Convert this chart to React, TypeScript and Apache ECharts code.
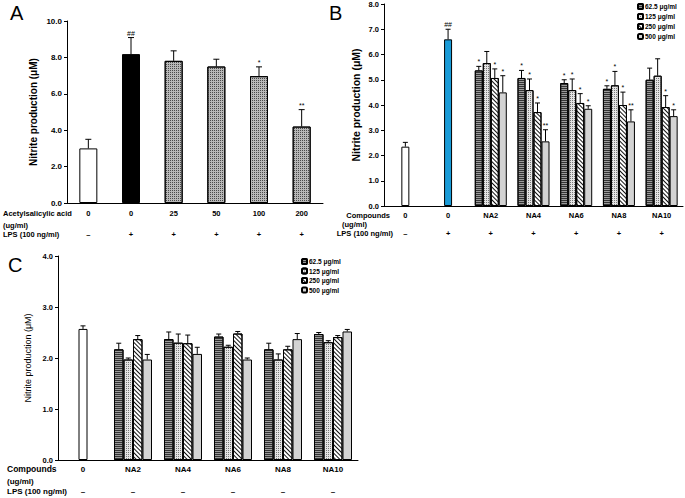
import React, { useEffect, useRef } from "react";
import * as echarts from "echarts";

// ---------- Panel A ----------
const A_CATS = ["0", "0", "25", "50", "100", "200"];
const A_LPS = ["–", "+", "+", "+", "+", "+"];
const A_VALUES = [3.0, 8.18, 7.81, 7.5, 6.97, 4.2];
const A_ERR = [0.5, 0.91, 0.55, 0.4, 0.51, 0.93];
const A_SIG = ["", "##", "", "", "*", "**"];

// ---------- Panel B ----------
const B_CATS = ["0", "0", "NA2", "NA4", "NA6", "NA8", "NA10"];
const B_LPS = ["–", "+", "+", "+", "+", "+", "+"];
const B_CTRL = [2.35, 6.6];
const B_CTRL_ERR = [0.17, 0.4];
const B_CTRL_SIG = ["", "##"];
const B_625 = [5.37, 5.07, 4.87, 4.64, 5.0];
const B_125 = [5.66, 4.59, 4.59, 4.78, 5.16];
const B_250 = [5.07, 3.72, 4.08, 4.0, 3.92];
const B_500 = [4.5, 2.56, 3.85, 3.35, 3.56];
const B_625_ERR = [0.16, 0.3, 0.13, 0.12, 0.46];
const B_125_ERR = [0.46, 0.44, 0.44, 0.55, 0.67];
const B_250_ERR = [0.36, 0.36, 0.37, 0.51, 0.45];
const B_500_ERR = [0.66, 0.46, 0.12, 0.46, 0.25];
const B_625_SIG = ["*", "*", "*", "*", ""];
const B_125_SIG = ["", "*", "*", "*", ""];
const B_250_SIG = ["*", "*", "*", "*", "*"];
const B_500_SIG = ["*", "**", "*", "**", "*"];

// ---------- Panel C ----------
const C_CATS = ["0", "NA2", "NA4", "NA6", "NA8", "NA10"];
const C_LPS = ["–", "–", "–", "–", "–", "–"];
const C_CTRL = [2.57];
const C_CTRL_ERR = [0.06];
const C_625 = [2.17, 2.37, 2.42, 2.17, 2.47];
const C_125 = [1.97, 2.3, 2.22, 1.97, 2.31];
const C_250 = [2.37, 2.29, 2.48, 2.17, 2.41];
const C_500 = [1.97, 2.08, 1.97, 2.37, 2.52];
const C_625_ERR = [0.12, 0.14, 0.05, 0.12, 0.03];
const C_125_ERR = [0.03, 0.17, 0.03, 0.11, 0.03];
const C_250_ERR = [0.07, 0.16, 0.04, 0.06, 0.03];
const C_500_ERR = [0.1, 0.13, 0.03, 0.11, 0.04];

const CONC = ["62.5 μg/ml", "125 μg/ml", "250 μg/ml", "500 μg/ml"];

const FONT = '"Liberation Sans", Arial, Helvetica, sans-serif';

const STYLE_625 = {
  color: "#9a9a9a",
  borderColor: "#000",
  borderWidth: 1,
  decal: { symbol: "rect", symbolSize: 1, dashArrayX: [1, 0], dashArrayY: [1, 1], color: "#333" },
};
const STYLE_125 = {
  color: "#e4e4e4",
  borderColor: "#000",
  borderWidth: 1,
  decal: { symbol: "rect", symbolSize: 1, dashArrayX: [1, 1], dashArrayY: [1, 1], color: "#777" },
};
const STYLE_250 = {
  color: "#ffffff",
  borderColor: "#000",
  borderWidth: 1,
  decal: {
    symbol: "rect",
    symbolSize: 1,
    dashArrayX: [1, 0],
    dashArrayY: [1, 2],
    rotation: Math.PI / 4,
    color: "#111",
  },
};
const STYLE_500 = { color: "#d3d3d3", borderColor: "#000", borderWidth: 1 };
const STYLES = [STYLE_625, STYLE_125, STYLE_250, STYLE_500];

const A_STYLES = [
  { color: "#ffffff", borderColor: "#000", borderWidth: 1 },
  { color: "#000000", borderColor: "#000", borderWidth: 1 },
];
const A_HATCH = {
  color: "#b8b8b8",
  borderColor: "#000",
  borderWidth: 1,
  decal: { symbol: "rect", symbolSize: 1, dashArrayX: [1, 1], dashArrayY: [1, 1], color: "#4a4a4a" },
};

function errSeries(
  xi: number,
  yi: number,
  start: number,
  vals: number[],
  errs: number[],
  sigs: string[],
  offset: number,
  cap: number
) {
  const data = vals.map((v, k) => [start + k, v, errs[k]]);
  return {
    type: "custom",
    xAxisIndex: xi,
    yAxisIndex: yi,
    z: 5,
    silent: true,
    data,
    renderItem: (params: any, api: any) => {
      const i = api.value(0);
      const v = api.value(1);
      const e = api.value(2);
      const p0 = api.coord([i, v]);
      const p1 = api.coord([i, v + e]);
      const x = p0[0] + offset;
      const sig = sigs[params.dataIndex] || "";
      return {
        type: "group",
        children: [
          {
            type: "line",
            shape: { x1: x, y1: p0[1], x2: x, y2: p1[1] },
            style: { stroke: "#000", lineWidth: 1 },
          },
          {
            type: "line",
            shape: { x1: x - cap, y1: p1[1], x2: x + cap, y2: p1[1] },
            style: { stroke: "#000", lineWidth: 1 },
          },
          {
            type: "text",
            x: x,
            y: p1[1] - 1,
            style: {
              text: sig,
              fill: "#000",
              font: `7px ${FONT}`,
              align: "center",
              verticalAlign: "bottom",
              textAlign: "center",
              textVerticalAlign: "bottom",
            },
          },
        ],
      };
    },
  };
}

function catAxis(gridIndex: number, cats: string[], signs: string[], fs: number, lh: number, margin: number, show = true) {
  return {
    type: "category",
    gridIndex,
    data: cats,
    show,
    axisLine: { show: true, lineStyle: { color: "#000", width: 1 } },
    axisTick: { show: false },
    axisLabel: {
      show: true,
      interval: 0,
      margin,
      color: "#000",
      fontFamily: FONT,
      fontWeight: "bold",
      fontSize: fs,
      lineHeight: lh,
      formatter: (val: string, idx: number) => `${val}\n\n${signs[idx]}`,
    },
  };
}

function valAxis(gridIndex: number, max: number, interval: number, name: string, nameGap: number, fs: number, nfs: number, nameWeight: string) {
  return {
    type: "value",
    gridIndex,
    min: 0,
    max,
    interval,
    name,
    nameLocation: "middle",
    nameGap,
    nameTextStyle: { color: "#000", fontFamily: FONT, fontSize: nfs, fontWeight: nameWeight },
    axisLine: { show: true, lineStyle: { color: "#000", width: 1 } },
    axisTick: { show: true, length: 3, lineStyle: { color: "#000" } },
    splitLine: { show: false },
    axisLabel: {
      color: "#000",
      fontFamily: FONT,
      fontWeight: "bold",
      fontSize: fs,
      margin: 5,
      formatter: (v: number) => v.toFixed(1),
    },
  };
}

function textEl(text: string, x: number, y: number, size: number, weight = "bold", align = "left") {
  return {
    type: "text",
    x,
    y,
    silent: true,
    style: {
      text,
      fill: "#000",
      font: `${weight} ${size}px ${FONT}`,
      textAlign: align,
      textVerticalAlign: "middle",
      align,
      verticalAlign: "middle",
    },
  };
}

export default function App() {
  const ref = useRef<HTMLDivElement>(null);

  useEffect(() => {
    if (!ref.current) return;
    const chart = echarts.init(ref.current, undefined, { renderer: "svg" });

    const pad = (n: number) => Array(n).fill("-");

    const option: any = {
      animation: false,
      backgroundColor: "#fff",
      textStyle: { fontFamily: FONT },
      grid: [
        { left: 67, top: 21, width: 256, height: 182 },
        { left: 384, top: 4, width: 299, height: 202 },
        { left: 58, top: 256, width: 300, height: 204 },
      ],
      xAxis: [
        catAxis(0, A_CATS, A_LPS, 7.5, 10.5, 5),
        catAxis(1, B_CATS, B_LPS, 7.5, 9, 4.5),
        { ...catAxis(1, B_CATS, B_LPS, 7.5, 9, 4.5), show: false },
        catAxis(2, C_CATS, C_LPS, 8, 11, 3.5),
        { ...catAxis(2, C_CATS, C_LPS, 8, 11, 3.5), show: false },
      ],
      yAxis: [
        valAxis(0, 10, 2, "Nitrite production (μM)", 29, 8, 10, "bold"),
        valAxis(1, 8, 1, "Nitrite production (μM)", 22.5, 7.5, 10.5, "bold"),
        valAxis(2, 4, 1, "Nitrite production (μM)", 25.5, 7.5, 9, "normal"),
      ],
      legend: [
        {
          left: 637,
          top: 3,
          orient: "vertical",
          padding: 0,
          itemWidth: 5,
          itemHeight: 5,
          itemGap: 3,
          selectedMode: false,
          textStyle: { fontSize: 6.5, fontWeight: "bold", color: "#000", fontFamily: FONT, padding: [0, 0, 0, -3] },
          data: CONC,
        },
        {
          left: 301,
          top: 258,
          orient: "vertical",
          padding: 0,
          itemWidth: 5,
          itemHeight: 5,
          itemGap: 2.5,
          selectedMode: false,
          textStyle: { fontSize: 6.5, fontWeight: "bold", color: "#000", fontFamily: FONT, padding: [0, 0, 0, -3] },
          data: CONC,
        },
      ],
      series: [] as any[],
      graphic: [
        textEl("A", 10, 13, 20, "normal"),
        textEl("B", 329, 13, 20, "normal"),
        textEl("C", 8, 265, 20, "normal"),
        textEl("Acetylsalicylic acid", 3, 213, 7.5),
        textEl("(ug/ml)", 3, 225, 7.5),
        textEl("LPS (100 ng/ml)", 3, 234, 7.5),
        textEl("Compounds", 390, 215, 7.5, "bold", "right"),
        textEl("(ug/ml)", 342, 224, 7.5),
        textEl("LPS (100 ng/ml)", 393, 233, 7.5, "bold", "right"),
        textEl("Compounds", 7, 469, 8.5),
        textEl("(ug/ml)", 7, 481, 8),
        textEl("LPS (100 ng/ml)", 7, 491, 8),
      ],
    };

    const S = option.series;

    // Panel A
    S.push({
      type: "bar",
      name: "A",
      xAxisIndex: 0,
      yAxisIndex: 0,
      barWidth: 18,
      data: A_VALUES.map((v, i) => ({ value: v, itemStyle: i < 2 ? A_STYLES[i] : A_HATCH })),
    });
    S.push(errSeries(0, 0, 0, A_VALUES, A_ERR, A_SIG, 0, 3));

    // Panel B
    S.push({
      type: "bar",
      name: "B control",
      xAxisIndex: 2,
      yAxisIndex: 1,
      barWidth: 8,
      data: [
        { value: B_CTRL[0], itemStyle: { color: "#ffffff", borderColor: "#000", borderWidth: 1 } },
        { value: B_CTRL[1], itemStyle: { color: "#1a9bd7", borderColor: "#000", borderWidth: 1 } },
        ...pad(5),
      ],
    });
    S.push(errSeries(2, 1, 0, B_CTRL, B_CTRL_ERR, B_CTRL_SIG, 0, 2.5));
    const bVals = [B_625, B_125, B_250, B_500];
    const bErr = [B_625_ERR, B_125_ERR, B_250_ERR, B_500_ERR];
    const bSig = [B_625_SIG, B_125_SIG, B_250_SIG, B_500_SIG];
    bVals.forEach((vals, k) => {
      S.push({
        type: "bar",
        name: CONC[k],
        xAxisIndex: 1,
        yAxisIndex: 1,
        barWidth: 8,
        barGap: "0%",
        itemStyle: STYLES[k],
        data: [...pad(2), ...vals],
      });
    });
    bVals.forEach((vals, k) => {
      S.push(errSeries(1, 1, 2, vals, bErr[k], bSig[k], (k - 1.5) * 8, 2.5));
    });

    // Panel C
    S.push({
      type: "bar",
      name: "C control",
      xAxisIndex: 4,
      yAxisIndex: 2,
      barWidth: 9,
      data: [{ value: C_CTRL[0], itemStyle: { color: "#ffffff", borderColor: "#000", borderWidth: 1 } }, ...pad(5)],
    });
    S.push(errSeries(4, 2, 0, C_CTRL, C_CTRL_ERR, [""], 0, 2.5));
    const cVals = [C_625, C_125, C_250, C_500];
    const cErr = [C_625_ERR, C_125_ERR, C_250_ERR, C_500_ERR];
    cVals.forEach((vals, k) => {
      S.push({
        type: "bar",
        name: CONC[k],
        xAxisIndex: 3,
        yAxisIndex: 2,
        barWidth: 9.5,
        barGap: "0%",
        itemStyle: STYLES[k],
        data: [...pad(1), ...vals],
      });
    });
    cVals.forEach((vals, k) => {
      S.push(errSeries(3, 2, 1, vals, cErr[k], ["", "", "", "", ""], (k - 1.5) * 9.5, 2.5));
    });

    chart.setOption(option);
    return () => chart.dispose();
  }, []);

  return (
    <div
      ref={ref}
      style={{ position: "absolute", left: 0, top: 0, width: 685, height: 498, background: "#fff" }}
    />
  );
}
